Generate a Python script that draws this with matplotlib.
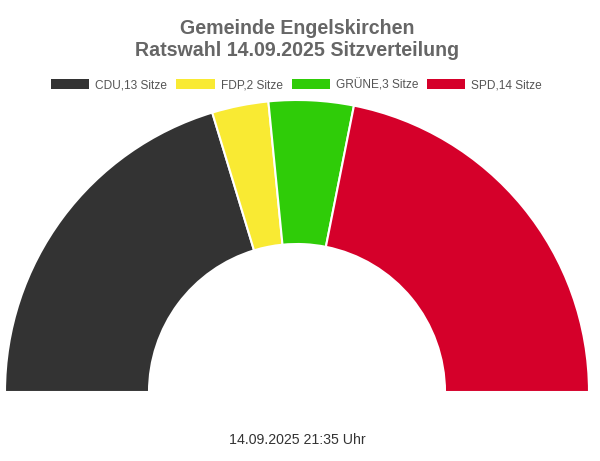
import matplotlib
matplotlib.use("Agg")
import matplotlib.pyplot as plt
from matplotlib.patches import Patch

parties = ["CDU", "FDP", "GRÜNE", "SPD"]
seats = [13, 2, 3, 14]
colors = ["#333333", "#f9ea33", "#2fcc08", "#d5002a"]
title = "Gemeinde Engelskirchen\nRatswahl 14.09.2025 Sitzverteilung"
footer = "14.09.2025 21:35 Uhr"

plt.rcParams['font.family'] = ['Liberation Sans', 'DejaVu Sans']

W, H = 600, 461
fig = plt.figure(figsize=(W / 100, H / 100), dpi=100)
ax = fig.add_axes([0, 0, 1, 1])

total = sum(seats)
vals = seats + [total]
cols = colors + ["none"]
wedges, _ = ax.pie(vals, colors=cols, startangle=180, counterclock=False,
                   center=(297, 69), radius=292, frame=True,
                   wedgeprops=dict(width=144, edgecolor="white", linewidth=1.5))
wedges[-1].set_visible(False)

ax.set_xlim(0, W)
ax.set_ylim(0, H)
ax.set_aspect("equal")
ax.axis("off")

fig.text(297 / W, 1 - 39 / H, title, ha="center", va="center", fontsize=14.1,
         fontweight="bold", color="#666666", linespacing=1.2)

handles = [Patch(facecolor=c, edgecolor="none") for c in colors]
labels = [f"{p},{s} Sitze" for p, s in zip(parties, seats)]
fig.legend(handles, labels, loc="center", bbox_to_anchor=(0.4945, 1 - 85 / H),
           ncol=4, frameon=False, fontsize=8.6, handlelength=3.2,
           handleheight=0.85, handletextpad=0.5, columnspacing=0.75,
           labelcolor="#555555")

fig.text(297 / W, 1 - 440 / H, footer, ha="center", va="center",
         fontsize=10.2, color="#333333")

fig.savefig("out.png", dpi=100)
